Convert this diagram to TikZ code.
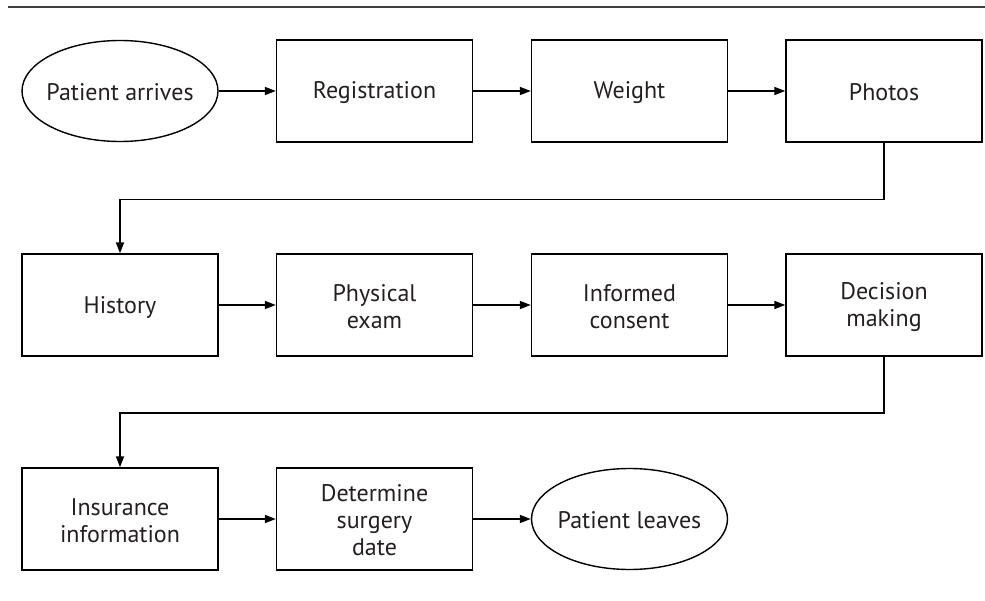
\documentclass[tikz,border=0pt]{standalone}
\usepackage{fontspec}
\setmainfont{PT Sans}
\usetikzlibrary{arrows.meta,shapes.geometric}
\definecolor{inkgray}{HTML}{231F20}
\definecolor{rulegray}{HTML}{404040}
% line strut that keeps every label's baseline at the same place
\newcommand{\lbl}{\rule[-1.5pt]{0pt}{22.5pt}}
\begin{document}
\begin{tikzpicture}[x=1pt,y=-1pt,
  every node/.style={font=\fontsize{24}{27}\selectfont, text=inkgray, align=center, line width=1.4pt},
  stepbox/.style={draw, rectangle, minimum width=196pt, minimum height=102pt, inner sep=0pt},
  endpoint/.style={draw, ellipse, minimum width=196pt, minimum height=101pt, inner ysep=0pt, inner xsep=-20pt},
  flow/.style={line width=1.6pt, -{Triangle[length=11pt,width=8pt]}}]
  \useasboundingbox (0,0) rectangle (985,601);
  % header rule
  \draw[rulegray, line width=2pt] (8,7) -- (985,7);
  % first row
  \node[endpoint] (arr) at (120,91) {\lbl Patient arrives};
  \node[stepbox] (reg) at (374.5,91) {\lbl Registration};
  \node[stepbox] (wgt) at (629.5,91) {\lbl Weight};
  \node[stepbox] (pho) at (884,91) {\lbl Photos};
  % second row
  \node[stepbox] (his) at (120,305) {\lbl History};
  \node[stepbox] (phy) at (374.5,305) {\lbl Physical\\\lbl exam};
  \node[stepbox] (inf) at (629.5,305) {\lbl Informed\\\lbl consent};
  \node[stepbox] (dec) at (884,305) {\lbl Decision\\\lbl making};
  % third row
  \node[stepbox] (ins) at (120,519) {\lbl Insurance\\\lbl information};
  \node[stepbox] (sur) at (374.5,519) {\lbl Determine\\\lbl surgery\\\lbl date};
  \node[endpoint] (lea) at (629.5,519) {\lbl Patient leaves};
  % connectors
  \draw[flow] (arr) -- (reg);
  \draw[flow] (reg) -- (wgt);
  \draw[flow] (wgt) -- (pho);
  \draw[flow] (pho.south) -- ++(0,57) -| (his.north);
  \draw[flow] (his) -- (phy);
  \draw[flow] (phy) -- (inf);
  \draw[flow] (inf) -- (dec);
  \draw[flow] (dec.south) -- ++(0,56) -| (ins.north);
  \draw[flow] (ins) -- (sur);
  \draw[flow] (sur) -- (lea);
\end{tikzpicture}
\end{document}
